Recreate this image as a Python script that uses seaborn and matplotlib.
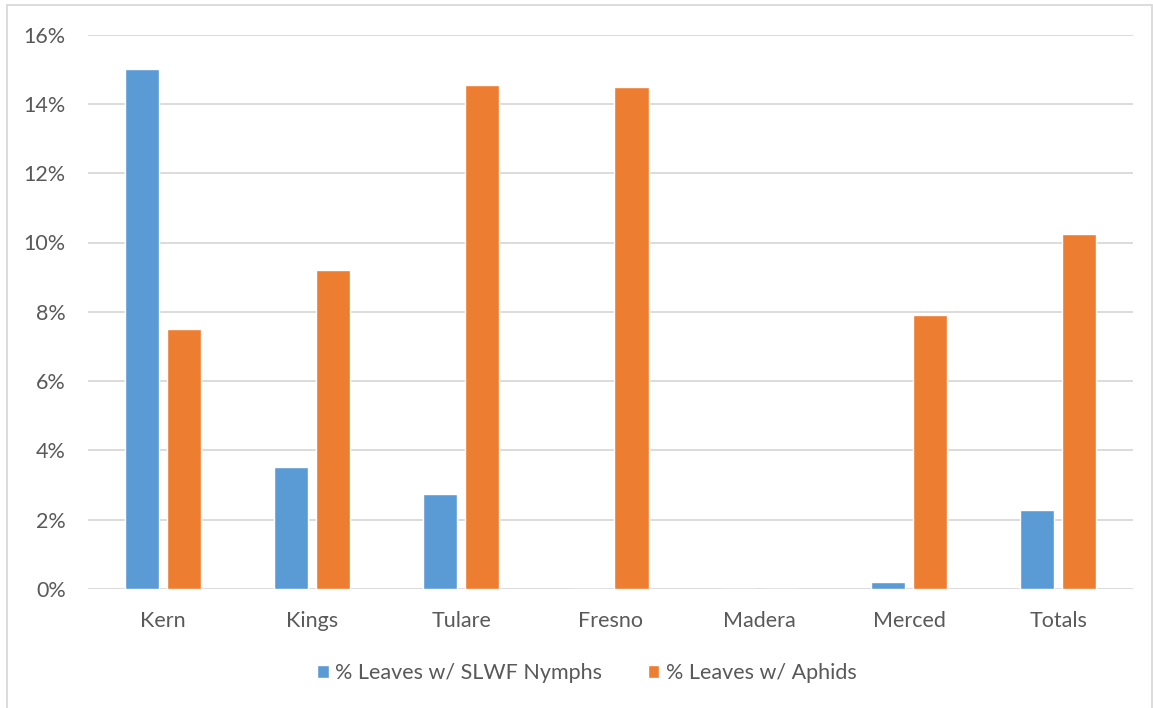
import matplotlib
matplotlib.use("Agg")
import matplotlib.pyplot as plt
from matplotlib.patches import Rectangle
from matplotlib.ticker import FuncFormatter
import pandas as pd
import seaborn as sns

counties = ["Kern", "Kings", "Tulare", "Fresno", "Madera", "Merced", "Totals"]
slwf_nymphs = [15.0, 3.52, 2.74, 0.0, 0.0, 0.2, 2.28]
aphids = [7.5, 9.2, 14.55, 14.5, 0.0, 7.9, 10.25]
series_names = ["% Leaves w/ SLWF Nymphs", "% Leaves w/ Aphids"]
y_ticks = [0, 2, 4, 6, 8, 10, 12, 14, 16]

df = pd.DataFrame({
    "County": counties * 2,
    "Value": slwf_nymphs + aphids,
    "Series": [series_names[0]] * len(counties) + [series_names[1]] * len(counties),
})

sns.set_theme(style="white")
plt.rcParams["font.family"] = ["Lato", "DejaVu Sans"]
text_color = "#595959"
grid_color = "#D9D9D9"
fs = 15.5

W, H = 1153, 708
fig = plt.figure(figsize=(W / 100, H / 100), dpi=100)
ax = fig.add_axes([88 / W, 1 - 589 / H, (1133 - 88) / W, (589 - 34.6) / H])

sns.barplot(
    data=df, x="County", y="Value", hue="Series",
    order=counties, hue_order=series_names,
    palette=["#5B9BD5", "#ED7D31"],
    width=0.563, gap=0.19, saturation=1, legend=True, ax=ax,
)

ax.set_ylim(0, 16)
ax.set_xlim(-0.5, len(counties) - 0.5)
ax.set_yticks(y_ticks)
ax.yaxis.set_major_formatter(FuncFormatter(lambda v, _: f"{v:.0f}%"))
ax.grid(axis="y", color=grid_color, linewidth=1.3)
ax.set_axisbelow(True)
for s in ax.spines.values():
    s.set_visible(False)
ax.tick_params(axis="both", length=0, colors=text_color, labelsize=fs)
ax.tick_params(axis="y", pad=16)
ax.tick_params(axis="x", pad=16)
ax.set_xlabel("")
ax.set_ylabel("")

handles, labels = ax.get_legend_handles_labels()
ax.legend_.remove()
fig.legend(
    handles, labels, loc="center", bbox_to_anchor=(0.509, 1 - 673 / H),
    ncol=2, frameon=False, fontsize=fs, labelcolor=text_color,
    handlelength=0.55, handleheight=0.55, handletextpad=0.3, columnspacing=2.1,
)

fig.patches.append(Rectangle(
    (7 / W, -0.01), (1152 - 7) / W, 1 - 5 / H + 0.01,
    transform=fig.transFigure, fill=False, edgecolor="#D9D9D9", linewidth=1.3,
))

fig.savefig("out.png", dpi=100, facecolor="white")
